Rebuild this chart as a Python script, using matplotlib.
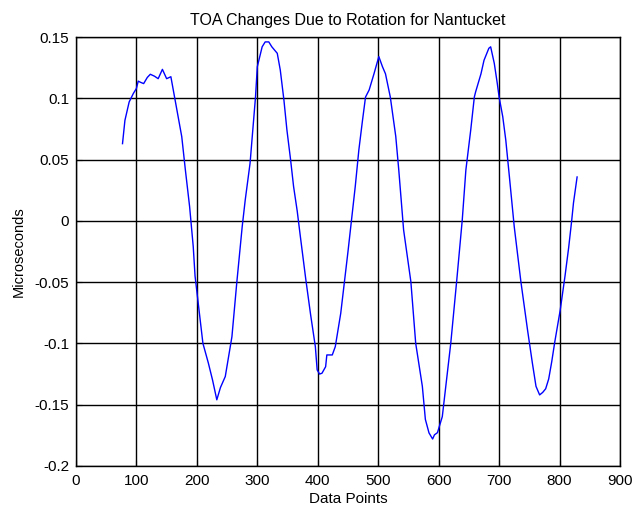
import matplotlib
matplotlib.use("Agg")
import matplotlib.pyplot as plt

plt.rcParams['font.family'] = ['Liberation Sans', 'DejaVu Sans']

data_points = [77, 81, 88, 95, 100, 103, 107, 112, 118, 123, 130, 136, 143, 150, 157,
               164, 175, 181, 188, 194, 197, 210, 219, 226, 233, 239, 247, 258, 266,
               275, 280, 288, 297, 300, 308, 313, 319, 324, 333, 338, 344, 349, 355,
               360, 366, 371, 380, 388, 396, 399, 403, 407, 413, 415, 424, 429, 438,
               450, 462, 468, 474, 479, 485, 493, 501, 507, 512, 520, 529, 534, 542,
               554, 562, 573, 578, 584, 590, 593, 598, 606, 620, 630, 639, 645, 653,
               659, 661, 670, 675, 683, 686, 692, 697, 700, 706, 711, 717, 725, 736,
               747, 755, 761, 767, 772, 777, 782, 787, 792, 801, 809, 815, 820, 823, 829]
microseconds = [0.063, 0.082, 0.097, 0.104, 0.108, 0.114, 0.113, 0.112, 0.117, 0.1196,
                0.118, 0.116, 0.1236, 0.116, 0.1176,
                0.0986, 0.0687, 0.0415, 0.0116, -0.021, -0.045, -0.0999, -0.116, -0.130,
                -0.146, -0.136, -0.127, -0.0945, -0.0506,
                -0.0047, 0.017, 0.047, 0.101, 0.1258, 0.142, 0.146, 0.146, 0.142, 0.1367,
                0.123, 0.0986, 0.074, 0.05,
                0.028, 0.008, -0.012, -0.047, -0.076, -0.1026, -0.1216, -0.125, -0.1243,
                -0.119, -0.1094, -0.1094, -0.1026, -0.0754,
                -0.025, 0.028, 0.058, 0.082, 0.101, 0.1068, 0.120, 0.134, 0.1258, 0.120,
                0.101, 0.069, 0.0415, -0.0074,
                -0.0496, -0.0999, -0.135, -0.162, -0.173, -0.178, -0.1746, -0.1728,
                -0.1597, -0.0999, -0.048, 0.0007, 0.0415, 0.074,
                0.101, 0.105, 0.120, 0.131, 0.1408, 0.142, 0.1285, 0.112, 0.101, 0.085,
                0.066, 0.036, -0.0047, -0.0496,
                -0.089, -0.116, -0.135, -0.142, -0.140, -0.137, -0.129, -0.115, -0.099,
                -0.073, -0.045, -0.022, 0.0, 0.0146, 0.0358]

x_ticks = [0, 100, 200, 300, 400, 500, 600, 700, 800, 900]
y_ticks = [-0.2, -0.15, -0.1, -0.05, 0, 0.05, 0.1, 0.15]
y_tick_labels = ['-0.2', '-0.15', '-0.1', '-0.05', '0', '0.05', '0.1', '0.15']

fig = plt.figure(figsize=(6.33, 5.14), dpi=100)
ax = fig.add_axes([0.120, 0.0934, 0.8595, 0.8346])
ax.plot(data_points, microseconds, color='#0000ff', linewidth=1.0)
ax.set_xlim(0, 900)
ax.set_ylim(-0.2, 0.15)
ax.set_xticks(x_ticks)
ax.set_xticklabels([str(t) for t in x_ticks])
ax.set_yticks(y_ticks)
ax.set_yticklabels(y_tick_labels)
ax.grid(True, color='black', linestyle='-', linewidth=1.0)
ax.set_axisbelow(True)
ax.tick_params(direction='in', length=4, labelsize=11, colors='black')
ax.tick_params(axis='x', pad=6)
ax.tick_params(axis='y', pad=5)
for s in ax.spines.values():
    s.set_linewidth(1.0)
    s.set_color('black')
ax.set_title('TOA Changes Due to Rotation for Nantucket', fontsize=11.5, pad=9)
ax.set_xlabel('Data Points', fontsize=11, labelpad=3)
ax.set_ylabel('Microseconds', fontsize=10.5, labelpad=6)
fig.savefig('out.png', dpi=100)
